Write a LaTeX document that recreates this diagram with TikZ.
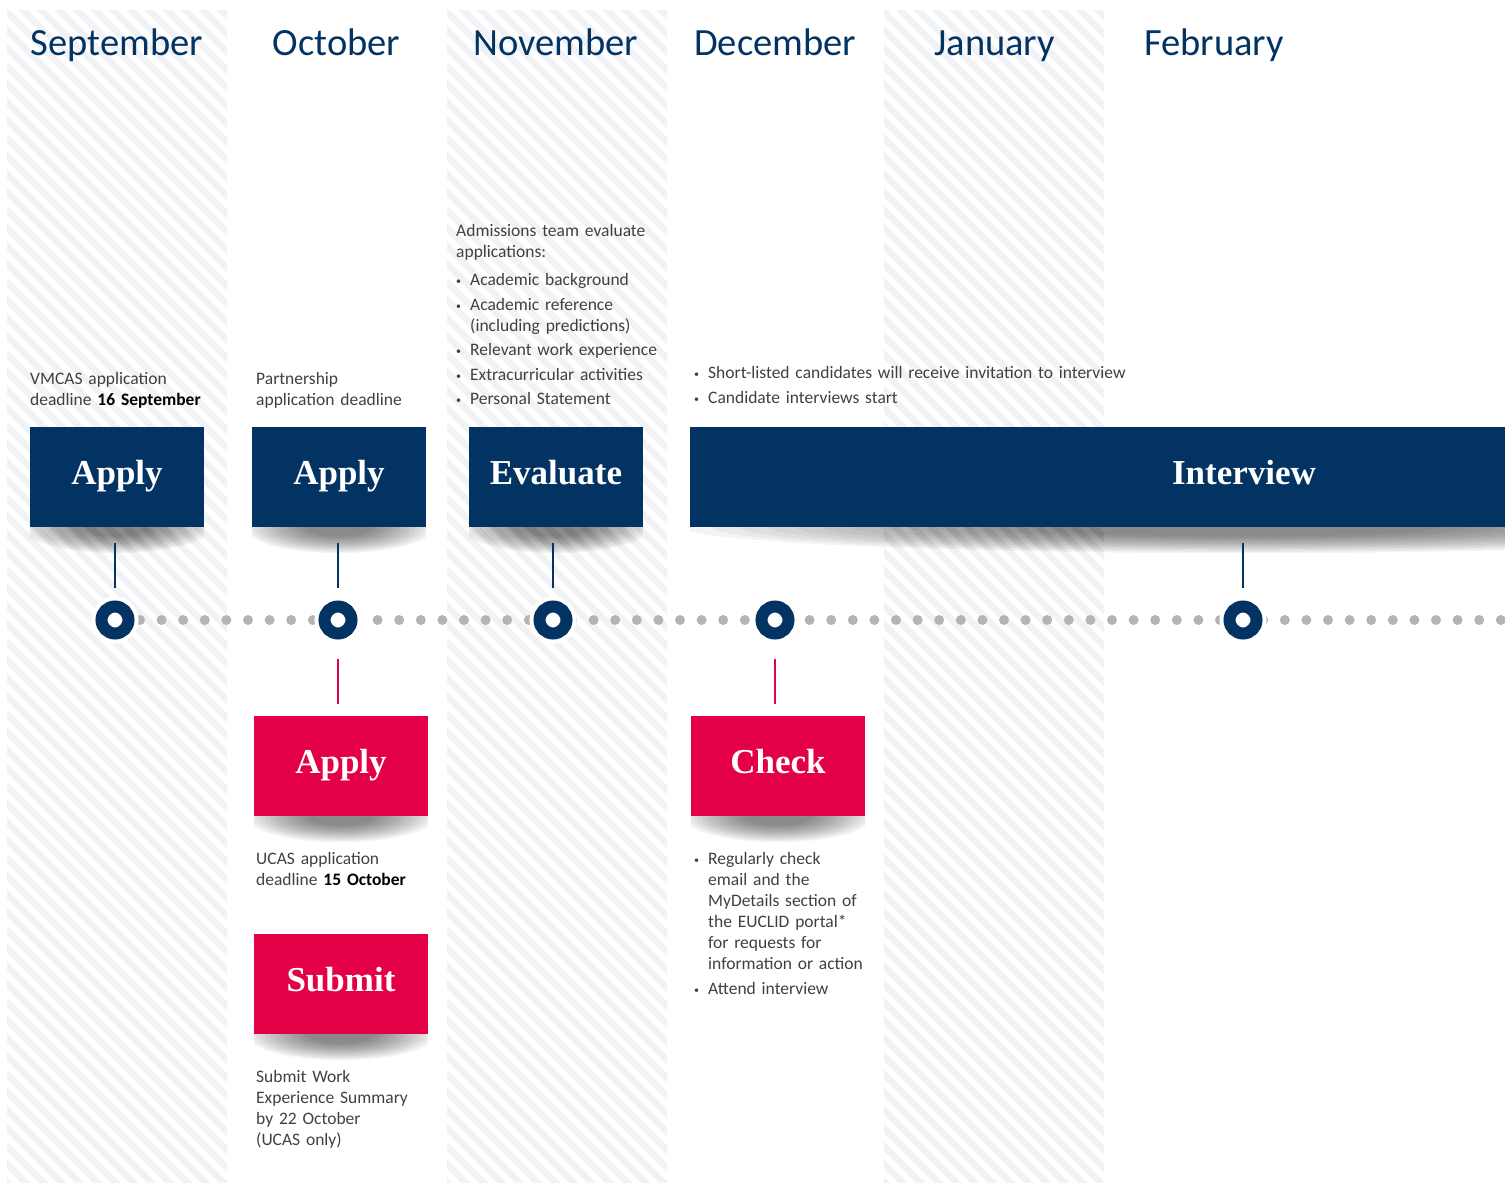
\documentclass[tikz,border=0pt]{standalone}
\usepackage{fontspec}
\setmainfont{Carlito}
\newfontfamily\boxface{Liberation Serif}
\usetikzlibrary{positioning}

\definecolor{navy}{RGB}{3,51,98}
\definecolor{crimson}{RGB}{228,0,70}
\definecolor{ink}{RGB}{64,64,64}
\definecolor{stripegrey}{RGB}{240,242,245}
\definecolor{dotgrey}{RGB}{180,180,180}

\setlength\parindent{0pt}

% bullet item with hanging indent
\newcommand\bitem[1]{\hangindent=14pt\hangafter=1\makebox[14pt][l]{\raisebox{1pt}{\fontsize{10}{10}\selectfont\textbullet}}#1\par}
% soft shadow under a box
\newcommand\dropshadow[3][0pt]{%
  \begin{scope}
    \clip (#2.south west) rectangle ([yshift=-40pt]#2.south east);
    \foreach \f in {1,...,14}
      \fill[black, opacity=0.045] ([xshift=#1]#2.south) ellipse ({#3*(0.3+0.7*\f/14)} and {26*(0.3+0.7*\f/14)});
  \end{scope}}

\tikzset{
  month/.style={font=\fontsize{38.5}{38.5}\selectfont, text=navy, anchor=base},
  navybox/.style={fill=navy, text=white, minimum width=174pt, minimum height=100pt,
    inner sep=0pt, text height=23pt, text depth=9pt,
    font=\boxface\bfseries\fontsize{35}{35}\selectfont},
  redbox/.style={navybox, fill=crimson},
  boxlabel/.style={text=white, inner sep=0pt, text height=23pt, text depth=9pt,
    font=\boxface\bfseries\fontsize{35}{35}\selectfont},
  note/.style={anchor=north west, inner sep=0pt, text=ink,
    font=\fontsize{17.5}{21}\selectfont},
  milestone/.style={circle, draw=navy, line width=12pt, fill=white, minimum size=27pt,
    inner sep=0pt, preaction={draw=white, line width=20pt}},
  navystem/.style={draw=navy, line width=1.5pt},
  redstem/.style={draw=crimson, line width=1.5pt},
  stripe/.style={draw=stripegrey, line width=6.5pt},
}

\begin{document}
\begin{tikzpicture}[x=1pt, y=-1pt]
\useasboundingbox (0,0) rectangle (1505,1183);

% striped month columns
\foreach \cx in {7,447,884} {
  \begin{scope}
    \clip (\cx,10) rectangle ++(220,1173);
    \foreach \s in {-1200,-1182,...,230}
      \draw[stripe] ({\cx+\s},0) -- ++(1200,1200);
  \end{scope}
}

% month headings
\foreach \m [count=\i] in {September,October,November,December,January,February}
  \node[month] (mon\i) at ({117+219.4*(\i-1)},55) {\m};

% timeline dots
\foreach \k in {0,...,63}
  \fill[dotgrey] ({140+21.6*\k},620) circle (5);

% milestones
\node[milestone] (m1) at (115,620) {};
\node[milestone] (m2) at (338,620) {};
\node[milestone] (m3) at (553,620) {};
\node[milestone] (m4) at (775,620) {};
\node[milestone] (m5) at (1243,620) {};

% boxes above the line
\node[navybox] (apsep) at (117,477) {Apply};
\node[navybox] (apoct) at (339,477) {Apply};
\node[navybox] (evnov) at (556,477) {Evaluate};
\node[navybox, minimum width=815pt] (intv) at (1097.5,477) {};
\node[boxlabel] (intvlabel) at (1244,477) {Interview};

% boxes below the line
\node[redbox] (apucas) at (341,766) {Apply};
\node[redbox] (check) at (778,766) {Check};
\node[redbox] (submit) at (341,984) {Submit};

\dropshadow{apsep}{95}
\dropshadow{apoct}{95}
\dropshadow{evnov}{95}
\dropshadow[146.5pt]{intv}{560}
\dropshadow{apucas}{95}
\dropshadow{check}{95}
\dropshadow{submit}{95}

% stems
\draw[navystem, shorten <=16pt, shorten >=12.5pt] (m1 |- apsep.south) -- (m1);
\draw[navystem, shorten <=16pt, shorten >=12.5pt] (m2 |- apoct.south) -- (m2);
\draw[navystem, shorten <=16pt, shorten >=12.5pt] (m3 |- evnov.south) -- (m3);
\draw[navystem, shorten <=16pt, shorten >=12.5pt] (m5 |- intv.south) -- (m5);
\draw[redstem, shorten <=19.5pt, shorten >=12pt] (m2) -- (m2 |- apucas.north);
\draw[redstem, shorten <=19.5pt, shorten >=12pt] (m4) -- (m4 |- check.north);

% notes
\node[note, text width=200pt] (vmcas) at (30,372)
  {VMCAS application\newline deadline \textbf{\color{black}16 September}};
\node[note, text width=180pt] (partner) at (256,372)
  {Partnership\newline application deadline};
\node[note, text width=220pt] (evalnote) at (456,224)
  {\setlength\parskip{3.5pt}Admissions team evaluate\newline applications:\par\vspace{4pt}
   \bitem{Academic background}
   \bitem{Academic reference\newline (including predictions)}
   \bitem{Relevant work experience}
   \bitem{Extracurricular activities}
   \bitem{Personal Statement}};
\node[note, text width=520pt] (intvnote) at (694,366)
  {\setlength\parskip{4pt}%
   \bitem{Short-listed candidates will receive invitation to interview}%
   \bitem{Candidate interviews start}};
\node[note, text width=180pt] (ucas) at (256,852)
  {UCAS application\newline deadline \textbf{\color{black}15 October}};
\node[note, text width=180pt] (wesnote) at (256,1070)
  {Submit Work\newline Experience Summary\newline by 22 October\newline (UCAS only)};
\node[note, text width=200pt] (checknote) at (694,852)
  {\setlength\parskip{4pt}%
   \bitem{Regularly check\newline email and the\newline MyDetails section of\newline the EUCLID portal*\newline for requests for\newline information or action}%
   \bitem{Attend interview}};

\end{tikzpicture}
\end{document}
